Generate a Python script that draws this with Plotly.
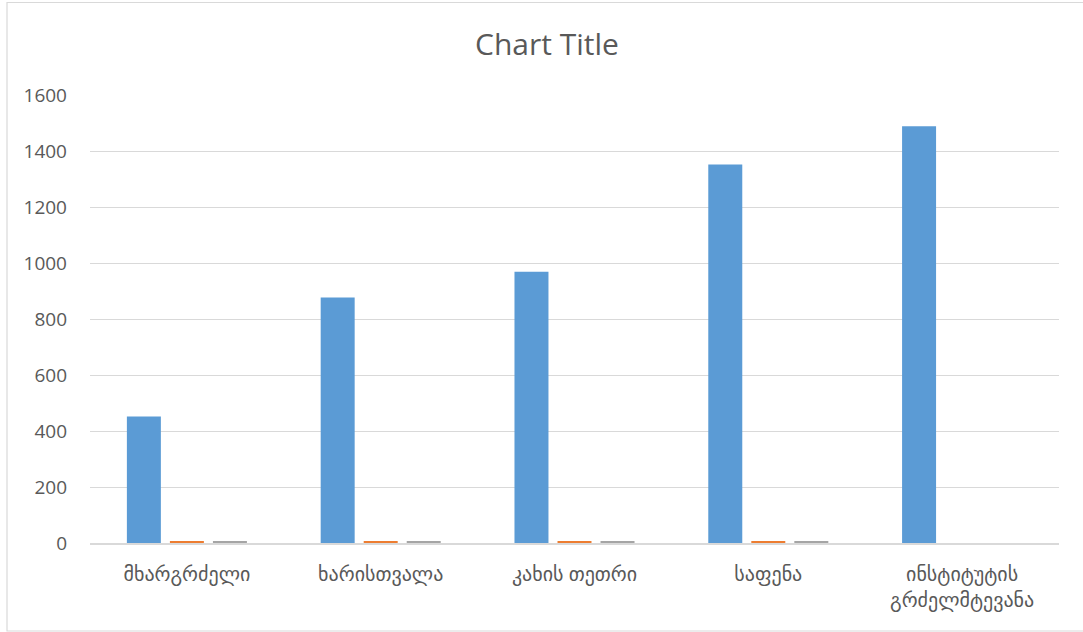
import plotly.graph_objects as go

categories = ["მხარგრძელი", "ხარისთვალა", "კახის თეთრი", "საფენა", "ინსტიტუტის<br>გრძელმტევანა"]
series1 = [452, 877, 969, 1352, 1488]
series2 = [4, 4, 4, 4, None]
series3 = [4, 4, 4, 4, None]
y_ticks = [0, 200, 400, 600, 800, 1000, 1200, 1400, 1600]

W, H = 1083, 632
ML, MR, MT, MB = 90, 24, 95, 89
PW, PH = W - ML - MR, H - MT - MB

fig = go.Figure()
fig.add_trace(go.Bar(x=categories, y=series1, name="Series1", marker_color="#5B9BD5", marker_line_width=0))
fig.add_trace(go.Bar(x=categories, y=series2, name="Series2", marker_color="#ED7D31", marker_line_width=0))
fig.add_trace(go.Bar(x=categories, y=series3, name="Series3", marker_color="#A5A5A5", marker_line_width=0))

def px_x(p):
    return (p - ML) / PW

def px_y(p):
    return (H - MB - p) / PH

fig.update_layout(
    width=W, height=H,
    margin=dict(l=ML, r=MR, t=MT, b=MB),
    paper_bgcolor="white", plot_bgcolor="white",
    showlegend=False,
    barmode="group", bargap=0.334, bargroupgap=0.21,
    title=dict(text="Chart Title", x=547 / W, xanchor="center", y=1 - 44 / H, yanchor="middle",
               font=dict(family="Open Sans, DejaVu Sans", size=30, color="#595959")),
    font=dict(family="Open Sans, DejaVu Sans", color="#595959"),
    xaxis=dict(showgrid=False, showline=True, linecolor="#d9d9d9", linewidth=1.5,
               ticks="", tickfont=dict(size=20, color="#595959", family="Open Sans, DejaVu Sans"),
               ticklabelstandoff=12),
    yaxis=dict(range=[0, 1600], tickvals=y_ticks, showgrid=True, gridcolor="#d9d9d9", gridwidth=1.2,
               zeroline=False, showline=False, ticks="",
               tickfont=dict(size=19, color="#595959"), ticklabelstandoff=22),
    shapes=[dict(type="rect", xref="paper", yref="paper",
                 x0=px_x(7), x1=px_x(1110), y0=px_y(631), y1=px_y(2.5),
                 line=dict(color="#d9d9d9", width=1.2), fillcolor="rgba(0,0,0,0)", layer="below")],
)

fig.write_html("out.html", config={"displayModeBar": False},
               post_script="document.body.style.margin='0';document.body.style.overflow='hidden';")
